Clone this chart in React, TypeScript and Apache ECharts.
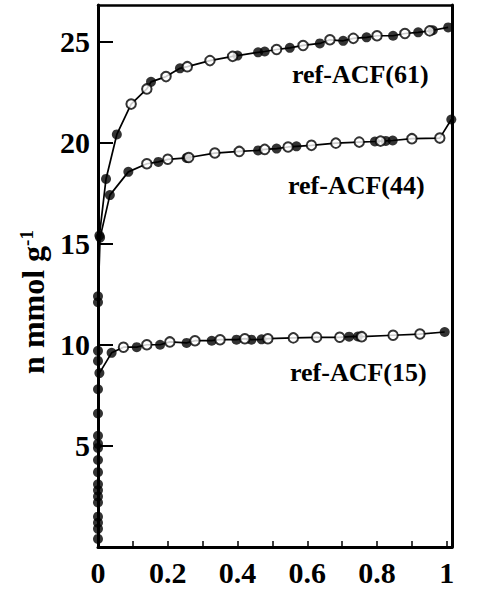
import React, { useEffect, useRef } from 'react';
import * as echarts from 'echarts';

type Pt = [number, number];

// Relative pressure p/p0 (x) vs. adsorbed amount n / mmol g^-1 (y)
// filled = adsorption, open = desorption
const ads61: Pt[] = [
  [0, 1.5], [0, 2.8], [0, 5.1], [0, 9.7], [0, 12.4], [0.004, 15.4], [0.023, 18.2], [0.054, 20.4],
  [0.152, 23.0], [0.235, 23.67], [0.4, 24.3], [0.459, 24.46], [0.478, 24.5], [0.55, 24.68],
  [0.636, 24.9], [0.703, 25.03], [0.77, 25.2], [0.846, 25.28], [0.918, 25.45], [0.96, 25.55], [1.004, 25.69],
];
const des61: Pt[] = [
  [0.095, 21.9], [0.14, 22.65], [0.195, 23.26], [0.256, 23.75], [0.321, 24.05], [0.386, 24.26],
  [0.512, 24.6], [0.588, 24.8], [0.665, 25.08], [0.732, 25.15], [0.8, 25.28], [0.88, 25.39], [0.951, 25.52],
];

const ads44: Pt[] = [
  [0, 0.9], [0, 2.2], [0, 3.7], [0, 4.9], [0, 9.2], [0, 12.1], [0.006, 15.3], [0.034, 17.4],
  [0.087, 18.55], [0.173, 19.04], [0.254, 19.24], [0.459, 19.61], [0.512, 19.7], [0.569, 19.81],
  [0.794, 20.05], [0.825, 20.08], [0.845, 20.1], [1.013, 21.14],
];
const des44: Pt[] = [
  [0.14, 18.95], [0.2, 19.17], [0.26, 19.26], [0.335, 19.48], [0.405, 19.56], [0.478, 19.66],
  [0.545, 19.78], [0.612, 19.86], [0.682, 19.97], [0.749, 20.02], [0.81, 20.07], [0.9, 20.19], [0.98, 20.22],
];

const ads15: Pt[] = [
  [0, 0.4], [0, 1.2], [0, 2.5], [0, 3.1], [0, 4.3], [0, 5.5], [0, 6.6], [0, 7.8], [0.004, 8.6],
  [0.039, 9.6], [0.111, 9.88], [0.178, 10.0], [0.254, 10.09], [0.326, 10.2], [0.397, 10.25],
  [0.44, 10.25], [0.469, 10.27], [0.72, 10.4], [0.745, 10.41], [0.994, 10.63],
];
const des15: Pt[] = [
  [0.073, 9.88], [0.14, 10.0], [0.206, 10.14], [0.278, 10.2], [0.35, 10.25], [0.421, 10.3],
  [0.487, 10.3], [0.56, 10.34], [0.627, 10.37], [0.693, 10.37], [0.756, 10.4], [0.846, 10.47], [0.923, 10.53],
];

const seriesNames = ['ref-ACF(61)', 'ref-ACF(44)', 'ref-ACF(15)'];
const xTickLabels = ['0', '0.2', '0.4', '0.6', '0.8', '1'];
const yTickLabels = ['5', '10', '15', '20', '25'];
const yAxisTitle = 'n mmol g';
const yAxisTitleSup = '-1';

const FONT = '"Liberation Serif", "Times New Roman", serif';

function merged(a: Pt[], b: Pt[]): Pt[] {
  return [...a, ...b].sort((p, q) => p[0] - q[0] || p[1] - q[1]);
}

export default function App() {
  const ref = useRef<HTMLDivElement>(null);
  useEffect(() => {
    const chart = echarts.init(ref.current!, null, { renderer: 'svg' });
    const groups: [Pt[], Pt[]][] = [[ads61, des61], [ads44, des44], [ads15, des15]];
    const series: any[] = [];
    groups.forEach(([a, d], i) => {
      series.push({
        name: seriesNames[i], type: 'line', data: merged(a, d), showSymbol: false, symbol: 'none',
        lineStyle: { color: '#000', width: 1.7 }, z: 2, clip: false,
      });
    });
    groups.forEach(([a, d], i) => {
      series.push({
        name: seriesNames[i] + ' ads', type: 'scatter', data: a, symbol: 'circle', symbolSize: 10,
        itemStyle: { color: '#000' }, z: 3, clip: false,
      });
      series.push({
        name: seriesNames[i] + ' des', type: 'scatter', data: d, symbol: 'circle', symbolSize: 9.5,
        itemStyle: { color: '#fff', borderColor: '#000', borderWidth: 2 }, z: 4, clip: false,
      });
    });
    const labelPos = [
      { x: 292, y: 74 },
      { x: 288, y: 185 },
      { x: 290, y: 372 },
    ];
    chart.setOption({
      animation: false,
      backgroundColor: '#fff',
      grid: { left: 98, right: 25, top: 5, bottom: 47, containLabel: false },
      xAxis: [
        {
          type: 'value', min: 0, max: 1.015, interval: 0.1,
          axisLine: { show: true, onZero: false, lineStyle: { color: '#000', width: 3 } },
          axisTick: { show: true, inside: true, length: 6, lineStyle: { color: '#000', width: 1.5 } },
          splitLine: { show: false },
          axisLabel: {
            margin: 10, color: '#000', fontFamily: FONT, fontWeight: 'bold', fontSize: 30,
            showMaxLabel: false,
            formatter: (v: number) => {
              const s = String(Math.round(v * 10) / 10);
              return xTickLabels.includes(s) ? s : '';
            },
          },
        },
        {
          type: 'value', position: 'top', min: 0, max: 1.015,
          axisLine: { show: true, onZero: false, lineStyle: { color: '#000', width: 2.5 } },
          axisTick: { show: false }, axisLabel: { show: false }, splitLine: { show: false },
        },
      ],
      yAxis: [
        {
          type: 'value', min: 0, max: 26.8, interval: 5,
          axisLine: { show: true, onZero: false, lineStyle: { color: '#000', width: 3 } },
          axisTick: { show: true, inside: true, length: 15, lineStyle: { color: '#000', width: 2 } },
          splitLine: { show: false },
          axisLabel: {
            margin: 8, color: '#000', fontFamily: FONT, fontWeight: 'bold', fontSize: 30,
            showMaxLabel: false,
            formatter: (v: number) => (yTickLabels.includes(String(v)) ? String(v) : ''),
          },
        },
        {
          type: 'value', position: 'right', min: 0, max: 26.8,
          axisLine: { show: true, onZero: false, lineStyle: { color: '#000', width: 3 } },
          axisTick: { show: false }, axisLabel: { show: false }, splitLine: { show: false },
        },
      ],
      graphic: [
        ...seriesNames.map((n, i) => ({
          type: 'text', x: labelPos[i].x, y: labelPos[i].y, z: 10,
          style: {
            text: n, fill: '#000', fontFamily: FONT, fontWeight: 'bold', fontSize: 26,
            align: 'left', verticalAlign: 'middle',
          },
        })),
        {
          type: 'text', x: 33, y: 302, rotation: Math.PI / 2, z: 10,
          style: {
            text: `{a|${yAxisTitle}}{b|${yAxisTitleSup}}`,
            align: 'center', verticalAlign: 'middle', fill: '#000',
            rich: {
              a: { fontFamily: FONT, fontWeight: 'bold', fontSize: 32, fill: '#000' },
              b: { fontFamily: FONT, fontWeight: 'bold', fontSize: 19, fill: '#000', verticalAlign: 'top' },
            },
          },
        },
      ],
      series,
    });
    return () => chart.dispose();
  }, []);
  return <div ref={ref} style={{ position: 'fixed', left: 0, top: 0, width: 477, height: 594 }} />;
}
